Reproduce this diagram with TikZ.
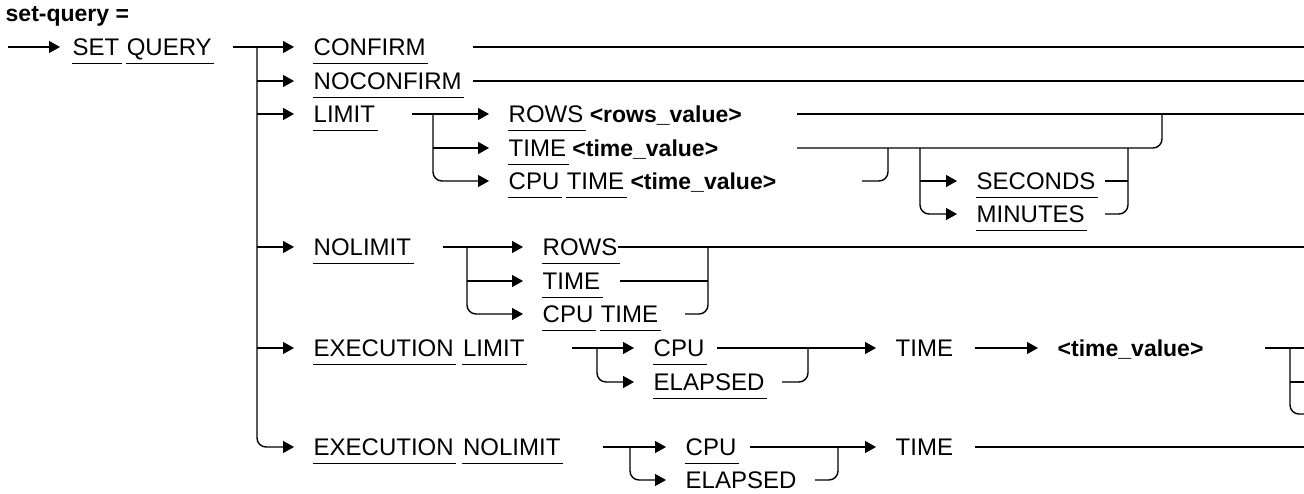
\documentclass[tikz,border=0pt]{standalone}
\usepackage{fontspec}
\setmainfont{Liberation Sans}
\usetikzlibrary{positioning,arrows.meta}

\begin{document}
\begin{tikzpicture}[x=1pt,y=-1pt,line width=1.4pt,>={Triangle[length=11pt,width=12pt]}]
  \tikzset{word/.style={anchor=west,inner sep=0pt,text height=17pt,text depth=0pt,font=\fontsize{24}{28}\selectfont}}
  \tikzset{kw/.style={word,append after command={([yshift=-7.5pt]\tikzlastnode.south west) edge ([xshift=2pt,yshift=-7.5pt]\tikzlastnode.south east)}}}
  \tikzset{val/.style={word,font=\fontsize{23}{28}\selectfont\bfseries}}
  \tikzset{rail/.style={rounded corners=9pt}}
  \tikzset{feed/.style={rail,->,shorten >=19pt}}
  \useasboundingbox (0,0) rectangle (1304,494);
  \coordinate (rim) at (1304,0);

  \node[val] (title) at (5,13) {set-query =};

  % entry
  \coordinate (start) at (8,47);
  \node[kw] (set) at (72,47) {SET};
  \node[kw,right=6pt of set] (query) {QUERY};
  \draw[->,shorten >=12pt] (start) -- (set);
  \coordinate (q0) at (233,47);
  \coordinate (trunk) at (257,47);
  \draw (q0) -- (trunk);

  % choices
  \node[kw] (confirm) at (313,47) {CONFIRM};
  \node[kw] (noconfirm) at (313,81) {NOCONFIRM};
  \node[kw] (limit) at (313,114) {LIMIT};
  \node[kw] (nolimit) at (313,247) {NOLIMIT};
  \node[kw] (exec1) at (313,348) {EXECUTION};
  \node[kw,right=8pt of exec1] (limit2) {LIMIT};
  \node[kw] (exec2) at (313,447) {EXECUTION};
  \node[kw,right=8pt of exec2] (nolimit2) {NOLIMIT};

  \draw[feed] (trunk) -- (confirm);
  \draw[feed] (trunk |- noconfirm) -- (noconfirm);
  \draw[feed] (trunk |- limit) -- (limit);
  \draw[feed] (trunk |- nolimit) -- (nolimit);
  \draw[feed] (trunk |- exec1) -- (exec1);
  \draw[feed] (trunk) |- (exec2);

  \coordinate (c1) at (473,47);
  \coordinate (c2) at (473,81);
  \draw (c1) -- (c1 -| rim);
  \draw (c2) -- (c2 -| rim);

  % LIMIT
  \coordinate (l0) at (412,114);
  \coordinate (lj) at (433,114);
  \draw (l0) -- (lj);
  \node[kw] (rows) at (508,114) {ROWS};
  \node[val,right=5pt of rows] (rowsv) {<rows\_value>};
  \node[kw] (time1) at (508,148) {TIME};
  \node[val,right=5pt of time1] (time1v) {<time\_value>};
  \node[kw] (cpu1) at (508,181) {CPU};
  \node[kw,right=6pt of cpu1] (time2) {TIME};
  \node[val,right=5pt of time2] (time2v) {<time\_value>};
  \draw[feed] (lj) -- (rows);
  \draw[feed] (lj |- time1) -- (time1);
  \draw[feed] (lj) |- (cpu1);

  \coordinate (l1) at (797,114);
  \coordinate (l2) at (797,148);
  \coordinate (l2j) at (1162,114);
  \coordinate (l3) at (862,181);
  \coordinate (l3j) at (888,148);
  \draw (l1) -- (l1 -| rim);
  \draw[rail] (l2) -| (l2j);
  \draw[rail] (l3) -| (l3j);

  % SECONDS / MINUTES
  \coordinate (uj) at (920,148);
  \node[kw] (seconds) at (976,181) {SECONDS};
  \node[kw] (minutes) at (976,214) {MINUTES};
  \draw[feed] (uj |- seconds) -- (seconds);
  \draw[feed] (uj) |- (minutes);
  \coordinate (u1) at (1105,181);
  \coordinate (u2) at (1105,214);
  \coordinate (uk) at (1128,148);
  \draw (u1) -- (u1 -| uk);
  \draw[rail] (u2) -| (uk);

  % NOLIMIT
  \coordinate (n0) at (443,247);
  \coordinate (nj) at (467,247);
  \draw (n0) -- (nj);
  \node[kw] (rows2) at (542,247) {ROWS};
  \node[kw] (time3) at (542,281) {TIME};
  \node[kw] (cpu2) at (542,314) {CPU};
  \node[kw,right=6pt of cpu2] (time4) {TIME};
  \draw[feed] (nj) -- (rows2);
  \draw[feed] (nj |- time3) -- (time3);
  \draw[feed] (nj) |- (cpu2);
  \draw (rows2) -- (rows2 -| rim);
  \coordinate (n2) at (620,281);
  \coordinate (n3) at (685,314);
  \coordinate (nk) at (708,247);
  \draw (n2) -- (n2 -| nk);
  \draw[rail] (n3) -| (nk);

  % EXECUTION LIMIT
  \coordinate (x0) at (572,348);
  \coordinate (xj) at (597,348);
  \draw (x0) -- (xj);
  \node[kw] (cpu3) at (653,348) {CPU};
  \node[kw] (elapsed1) at (653,382) {ELAPSED};
  \draw[feed] (xj) -- (cpu3);
  \draw[feed] (xj) |- (elapsed1);
  \coordinate (x1) at (717,348);
  \coordinate (x2) at (782,382);
  \coordinate (xk) at (808,348);
  \node[word] (time5) at (895,348) {TIME};
  \draw[feed] (x1) -- (time5);
  \draw[rail] (x2) -| (xk);
  \coordinate (x3) at (975,348);
  \node[val] (time5v) at (1057,348) {<time\_value>};
  \draw[feed] (x3) -- (time5v);
  \coordinate (x4) at (1265,348);
  \coordinate (xm) at (1290,348);
  \coordinate (xa) at (1304,382);
  \coordinate (xb) at (1304,414);
  \draw (x4) -- (x4 -| rim);
  \draw (xm |- xa) -- (xa);
  \draw[rail] (xm) |- (xb);

  % EXECUTION NOLIMIT
  \coordinate (y0) at (603,447);
  \coordinate (yj) at (630,447);
  \draw (y0) -- (yj);
  \node[kw] (cpu4) at (685,447) {CPU};
  \node[kw] (elapsed2) at (685,480) {ELAPSED};
  \draw[feed] (yj) -- (cpu4);
  \draw[feed] (yj) |- (elapsed2);
  \coordinate (y1) at (750,447);
  \coordinate (y2) at (815,480);
  \coordinate (yk) at (838,447);
  \node[word] (time6) at (895,447) {TIME};
  \draw[feed] (y1) -- (time6);
  \draw[rail] (y2) -| (yk);
  \coordinate (y3) at (975,447);
  \draw (y3) -- (y3 -| rim);
\end{tikzpicture}
\end{document}
